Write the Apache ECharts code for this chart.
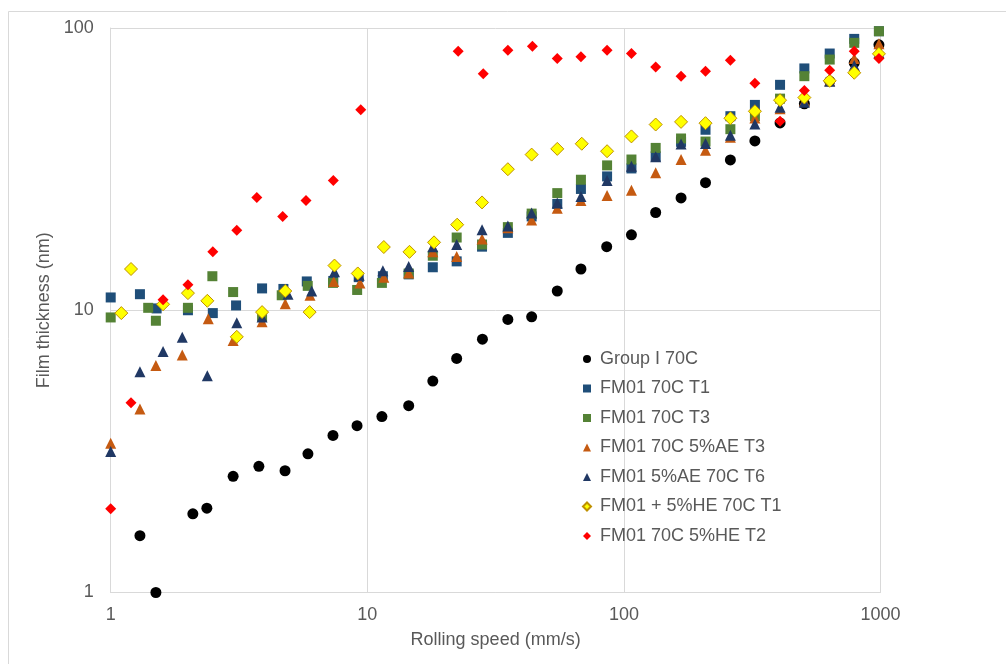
<!DOCTYPE html>
<html>
<head>
    <meta charset="utf-8">
    <script src="https://cdn.jsdelivr.net/npm/echarts@6/dist/echarts.min.js"></script>
    <style>
        html, body { margin: 0; padding: 0; background: #fff; }
        #main { width: 1006px; height: 664px; }
    </style>
</head>
<body>
<div id="main"></div>
<script type="text/javascript">
    // [rolling speed (mm/s), film thickness (nm)]
    var groupI70C = [
        [1.30, 1.59], [1.50, 1.0], [2.09, 1.90], [2.37, 1.99], [3.0, 2.58], [3.78, 2.80],
        [4.78, 2.70], [5.87, 3.10], [7.35, 3.60], [9.12, 3.90], [11.4, 4.20], [14.5, 4.59],
        [18.0, 5.61], [22.3, 6.75], [28.1, 7.90], [35.3, 9.28], [43.7, 9.48], [55.0, 11.7],
        [68.0, 14.0], [85.7, 16.8], [107, 18.5], [133, 22.2], [167, 25.0], [208, 28.3],
        [260, 34.1], [324, 39.8], [406, 46.1], [505, 53.9], [634, 64.8], [790, 75.3], [986, 87.2]
    ];
    var fm01T1 = [
        [1.0, 11.1], [1.30, 11.4], [1.51, 10.15], [2.0, 10.0], [2.5, 9.77], [3.08, 10.4],
        [3.89, 11.95], [4.71, 11.9], [5.81, 12.65], [7.37, 12.7], [9.26, 13.1], [11.5, 13.2],
        [14.5, 13.4], [18.0, 14.2], [22.3, 14.9], [28.0, 16.8], [35.3, 18.8], [43.7, 21.5],
        [55.0, 23.8], [68.0, 26.9], [86.0, 29.8], [107, 31.8], [133, 35.1], [167, 39.5],
        [208, 43.6], [260, 48.7], [324, 53.4], [406, 62.9], [505, 71.9], [634, 81.2],
        [790, 91.5], [986, 97.4]
    ];
    var fm01T3 = [
        [1.0, 9.43], [1.40, 10.2], [1.50, 9.18], [2.0, 10.2], [2.49, 13.2], [3.0, 11.6],
        [3.89, 9.51], [4.64, 11.3], [5.86, 12.2], [7.35, 12.5], [9.13, 11.8], [11.4, 12.5],
        [14.5, 13.5], [18.0, 15.6], [22.3, 18.1], [28.0, 17.1], [35.3, 19.7], [43.7, 22.0],
        [55.0, 26.0], [68.0, 29.0], [86.0, 32.6], [107, 34.2], [133, 37.6], [167, 40.6],
        [208, 39.6], [260, 43.8], [324, 48.7], [406, 56.2], [505, 67.5], [634, 77.3],
        [790, 88.6], [986, 97.4]
    ];
    var fm01AE_T3 = [
        [1.0, 3.38], [1.30, 4.47], [1.50, 6.37], [1.90, 6.94], [2.40, 9.33], [3.0, 7.81],
        [3.89, 9.10], [4.79, 10.55], [5.98, 11.3], [7.40, 12.65], [9.36, 12.5], [11.6, 13.1],
        [14.5, 13.55], [18.0, 16.1], [22.3, 15.5], [28.0, 17.9], [35.3, 19.6], [43.7, 20.9],
        [55.0, 23.0], [68.0, 24.5], [86.0, 25.5], [107, 26.6], [133, 30.7], [167, 34.2],
        [208, 36.9], [260, 41.0], [324, 48.0], [406, 51.7], [505, 55.0], [634, 65.0],
        [790, 78.0], [986, 88.0]
    ];
    var fm01AE_T6 = [
        [1.0, 3.16], [1.30, 6.05], [1.60, 7.14], [1.90, 8.03], [2.38, 5.86], [3.10, 9.03],
        [3.89, 9.46], [4.91, 11.4], [6.07, 11.7], [7.45, 13.7], [9.30, 13.3], [11.5, 13.8],
        [14.5, 14.3], [18.0, 16.8], [22.3, 17.1], [28.0, 19.3], [35.3, 19.9], [43.7, 22.1],
        [55.0, 24.0], [68.0, 25.3], [86.0, 28.8], [107, 32.4], [133, 35.0], [167, 38.8],
        [208, 39.0], [260, 41.7], [324, 45.7], [406, 52.4], [505, 54.6], [634, 64.8],
        [790, 73.6], [986, 81.7]
    ];
    var fm01HE_T1 = [
        [1.10, 9.77], [1.20, 14.0], [1.60, 10.5], [2.0, 11.5], [2.38, 10.8], [3.10, 8.05],
        [3.89, 9.85], [4.79, 11.7], [5.96, 9.85], [7.45, 14.4], [9.18, 13.5], [11.6, 16.75],
        [14.6, 16.1], [18.2, 17.4], [22.4, 20.1], [28.0, 24.1], [35.3, 31.6], [43.7, 35.6],
        [55.0, 37.3], [68.5, 38.9], [86.0, 36.6], [107, 41.3], [133, 45.5], [167, 46.5],
        [208, 46.0], [260, 47.9], [324, 50.7], [406, 55.5], [505, 56.7], [634, 65.0],
        [790, 69.4], [986, 81.0]
    ];
    var fm01HE_T2 = [
        [1.0, 1.98], [1.20, 4.70], [1.60, 10.9], [2.0, 12.3], [2.5, 16.1], [3.10, 19.2],
        [3.71, 25.1], [4.68, 21.5], [5.77, 24.5], [7.37, 28.8], [9.43, 51.3],
        [22.6, 82.7], [28.3, 68.8], [35.3, 83.4], [44.0, 86.2], [55.0, 78.0], [68.0, 79.1],
        [86.0, 83.4], [107, 81.2], [133, 72.8], [167, 67.5], [208, 70.3], [260, 76.9],
        [324, 63.7], [406, 46.7], [505, 60.0], [634, 70.9], [790, 82.7], [986, 78.0]
    ];

    var seriesNames = [
        'Group I 70C', 'FM01 70C T1', 'FM01 70C T3', 'FM01 70C 5%AE T3',
        'FM01 5%AE 70C T6', 'FM01 + 5%HE 70C T1', 'FM01 70C 5%HE T2'
    ];
    var seriesData = [groupI70C, fm01T1, fm01T3, fm01AE_T3, fm01AE_T6, fm01HE_T1, fm01HE_T2];
    var symbols = ['circle', 'rect', 'rect', 'triangle', 'triangle', 'diamond', 'diamond'];
    var sizes = [11, 10, 10, 11, 11, 13, 11];
    var colors = ['#000000', '#1f4e79', '#548235', '#c55a11', '#203864', '#ffff00', '#ff0000'];

    var font = "'Liberation Sans', Arial, sans-serif";
    var gray = '#595959';

    var series = [];
    for (var i = 0; i < seriesNames.length; i++) {
        var s = {
            name: seriesNames[i],
            type: 'scatter',
            symbol: symbols[i],
            symbolSize: sizes[i],
            data: seriesData[i],
            itemStyle: { color: colors[i], opacity: 1 }
        };
        if (i === 5) {
            s.itemStyle.borderColor = '#bf9000';
            s.itemStyle.borderWidth = 1;
        }
        series.push(s);
    }

    var myChart = echarts.init(document.getElementById('main'));
    var option = {
        animation: false,
        backgroundColor: '#ffffff',
        graphic: [{
            type: 'rect',
            shape: { x: 8.5, y: 11.5, width: 1100, height: 800 },
            style: { fill: 'none', stroke: '#d9d9d9', lineWidth: 1 },
            silent: true
        }],
        grid: { left: 110.7, right: 125.5, top: 28, bottom: 71.5 },
        legend: {
            orient: 'vertical',
            left: 577,
            top: 344,
            itemWidth: 8,
            itemHeight: 8,
            itemGap: 9.5,
            textStyle: { fontFamily: font, fontSize: 18, color: gray, lineHeight: 20, padding: [0, 0, 0, 4] },
            data: seriesNames
        },
        xAxis: {
            type: 'log',
            logBase: 10,
            min: 1,
            max: 1000,
            name: 'Rolling speed (mm/s)',
            nameLocation: 'middle',
            nameGap: 39,
            nameTextStyle: { fontFamily: font, fontSize: 18, color: gray },
            axisLine: { lineStyle: { color: '#d9d9d9' } },
            axisTick: { show: false },
            axisLabel: {
                fontFamily: font, fontSize: 18, color: gray, margin: 14,
                formatter: function (v) { return String(v); }
            },
            splitLine: { show: true, lineStyle: { color: '#d9d9d9' } },
            minorTick: { show: false }
        },
        yAxis: {
            type: 'log',
            logBase: 10,
            min: 1,
            max: 100,
            name: 'Film thickness (nm)',
            nameLocation: 'middle',
            nameGap: 52,
            nameTextStyle: { fontFamily: font, fontSize: 18, color: gray },
            axisLine: { show: true, lineStyle: { color: '#d9d9d9' } },
            axisTick: { show: false },
            axisLabel: {
                fontFamily: font, fontSize: 18, color: gray, margin: 17,
                formatter: function (v) { return String(v); }
            },
            splitLine: { show: true, lineStyle: { color: '#d9d9d9' } }
        },
        series: series
    };
    myChart.setOption(option);
</script>
</body>
</html>
